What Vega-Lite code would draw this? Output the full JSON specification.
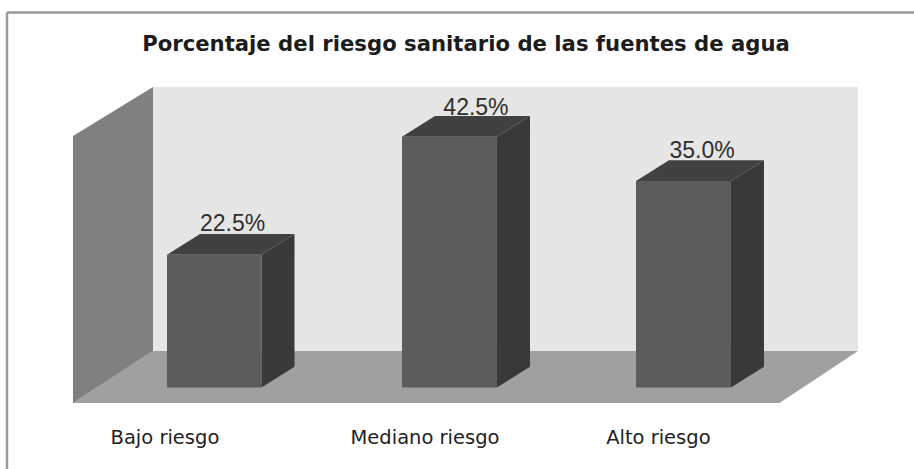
{
"$schema":"https://vega.github.io/schema/vega-lite/v6.json",
"autosize":{"type":"none"},
"width":914,"height":469,"padding":0,"background":"#ffffff",
"config":{"view":{"stroke":null}},
"datasets":{
"marco":[{"xa":-0.8818,"xb":2.982,"ya":63.56,"yb":63.56},{"xa":-0.8818,"xb":-0.8818,"ya":63.56,"yb":-13.81}],
"entorno":[
{"cara":"fondo","x":-0.2598,"y":50.93,"y2":6.19},{"cara":"fondo","x":2.7434,"y":50.93,"y2":6.19},
{"cara":"piso","x":-0.6006,"y":-2.63,"y2":-2.63},{"cara":"piso","x":-0.2598,"y":6.19,"y2":-2.63},{"cara":"piso","x":2.409,"y":6.19,"y2":-2.63},{"cara":"piso","x":2.7434,"y":6.19,"y2":6.19},
{"cara":"pared","x":-0.6006,"y":42.63,"y2":-2.63},{"cara":"pared","x":-0.2598,"y":50.93,"y2":6.19}
],
"caras":[
{"cara":"lateral","categoria":"Bajo riesgo","x":0.2023,"y":22.5,"y2":0},{"cara":"lateral","categoria":"Bajo riesgo","x":0.3429,"y":26,"y2":3.5},
{"cara":"superior","categoria":"Bajo riesgo","x":-0.2002,"y":22.5,"y2":22.5},{"cara":"superior","categoria":"Bajo riesgo","x":-0.0596,"y":26,"y2":22.5},{"cara":"superior","categoria":"Bajo riesgo","x":0.2023,"y":26,"y2":22.5},{"cara":"superior","categoria":"Bajo riesgo","x":0.3429,"y":26,"y2":26},
{"cara":"lateral","categoria":"Mediano riesgo","x":1.2055,"y":42.5,"y2":0},{"cara":"lateral","categoria":"Mediano riesgo","x":1.3461,"y":46,"y2":3.5},
{"cara":"superior","categoria":"Mediano riesgo","x":0.8009,"y":42.5,"y2":42.5},{"cara":"superior","categoria":"Mediano riesgo","x":0.9414,"y":46,"y2":42.5},{"cara":"superior","categoria":"Mediano riesgo","x":1.2055,"y":46,"y2":42.5},{"cara":"superior","categoria":"Mediano riesgo","x":1.3461,"y":46,"y2":46},
{"cara":"lateral","categoria":"Alto riesgo","x":2.2023,"y":35,"y2":0},{"cara":"lateral","categoria":"Alto riesgo","x":2.3429,"y":38.5,"y2":3.5},
{"cara":"superior","categoria":"Alto riesgo","x":1.7977,"y":35,"y2":35},{"cara":"superior","categoria":"Alto riesgo","x":1.9382,"y":38.5,"y2":35},{"cara":"superior","categoria":"Alto riesgo","x":2.2023,"y":38.5,"y2":35},{"cara":"superior","categoria":"Alto riesgo","x":2.3429,"y":38.5,"y2":38.5}
],
"barras":[
{"categoria":"Bajo riesgo","valor":22.5,"base":0,"xi":-0.2002,"xf":0.2023,"texto":"22.5%","xt":0.079,"yt":26.5,"xc":-0.209,"yc":-9.58},
{"categoria":"Mediano riesgo","valor":42.5,"base":0,"xi":0.8009,"xf":1.2055,"texto":"42.5%","xt":1.116,"yt":46.2,"xc":0.899,"yc":-9.58},
{"categoria":"Alto riesgo","valor":35,"base":0,"xi":1.7977,"xf":2.2023,"texto":"35.0%","xt":2.079,"yt":38.9,"xc":1.893,"yc":-9.58}
],
"titulo":[{"texto":"Porcentaje del riesgo sanitario de las fuentes de agua","x":1.0735,"y":57.03}]
},
"encoding":{
"x":{"field":"x","type":"quantitative","scale":{"domain":[-0.9116,2.982],"nice":false,"zero":false},"axis":null},
"y":{"field":"y","type":"quantitative","scale":{"domain":[-13.81,65.68],"nice":false,"zero":false},"axis":null}
},
"layer":[
{"data":{"name":"marco"},"mark":{"type":"rule","color":"#9a9a9a","strokeWidth":2.5},
 "encoding":{"x":{"field":"xa","type":"quantitative"},"x2":{"field":"xb"},"y":{"field":"ya","type":"quantitative"},"y2":{"field":"yb"}}},
{"data":{"name":"entorno"},"mark":{"type":"area","interpolate":"linear"},
 "encoding":{"y2":{"field":"y2"},"detail":{"field":"cara"},
 "color":{"field":"cara","type":"nominal","legend":null,"scale":{"domain":["fondo","piso","pared","lateral","superior"],"range":["#e6e6e6","#a0a0a0","#808080","#393939","#414141"]}}}},
{"data":{"name":"caras"},"mark":{"type":"area","interpolate":"linear"},
 "encoding":{"y2":{"field":"y2"},"detail":[{"field":"categoria"},{"field":"cara"}],
 "color":{"field":"cara","type":"nominal","legend":null,"scale":{"domain":["fondo","piso","pared","lateral","superior"],"range":["#e6e6e6","#a0a0a0","#808080","#393939","#414141"]}}}},
{"data":{"name":"barras"},"mark":{"type":"bar","color":"#5c5c5c"},
 "encoding":{"x":{"field":"xi","type":"quantitative"},"x2":{"field":"xf"},"y":{"field":"valor","type":"quantitative"},"y2":{"field":"base"}}},
{"data":{"name":"barras"},"mark":{"type":"text","font":"Liberation Sans","fontSize":23,"color":"#2e2e2e","align":"center","baseline":"alphabetic"},
 "encoding":{"x":{"field":"xt","type":"quantitative"},"y":{"field":"yt","type":"quantitative"},"text":{"field":"texto"}}},
{"data":{"name":"barras"},"mark":{"type":"text","font":"DejaVu Sans","fontSize":19.5,"color":"#222222","align":"center","baseline":"alphabetic"},
 "encoding":{"x":{"field":"xc","type":"quantitative"},"y":{"field":"yc","type":"quantitative"},"text":{"field":"categoria"}}},
{"data":{"name":"titulo"},"mark":{"type":"text","font":"DejaVu Sans","fontWeight":"bold","fontSize":21.2,"color":"#1c1c1c","align":"center","baseline":"alphabetic"},
 "encoding":{"text":{"field":"texto"}}}
]
}
